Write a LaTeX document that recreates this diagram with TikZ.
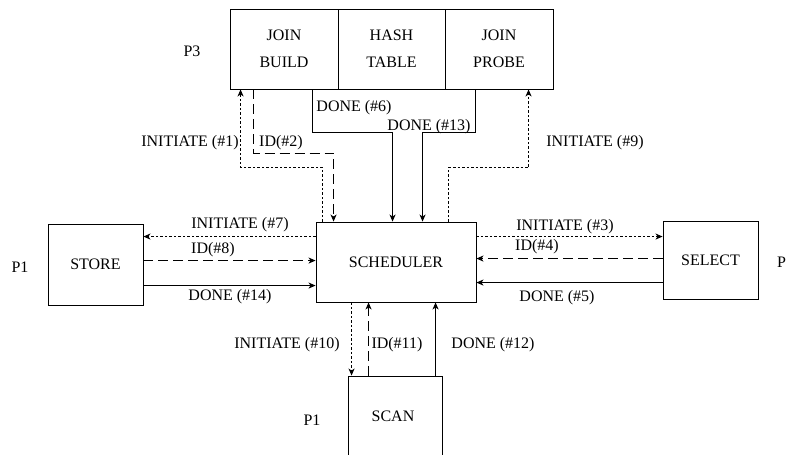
\documentclass[tikz,border=0pt]{standalone}
\usepackage{fontspec}
\setmainfont{Liberation Serif}
\usetikzlibrary{calc,arrows.meta}
\begin{document}
\begin{tikzpicture}[x=1pt,y=-1pt,
  every node/.style={font=\fontsize{16}{19}\selectfont},
  box/.style={draw,line width=0.9pt,inner sep=0pt,align=center},
  lbl/.style={inner sep=0pt},
  conn/.style={line width=0.9pt,-{Stealth[length=7pt,width=6pt,inset=2pt]}},
  dotline/.style={conn,dash pattern=on 2.5pt off 2pt},
  dashline/.style={conn,dash pattern=on 10pt off 5pt},
  solidline/.style={conn}]
\useasboundingbox (0,0) rectangle (790,455);
% boxes
\node[box,minimum width=108pt,minimum height=80pt] (jb) at (284,49) {JOIN\\[8pt]BUILD};
\node[box,minimum width=107pt,minimum height=80pt] (ht) at (391.5,49) {HASH\\[8pt]TABLE};
\node[box,minimum width=108pt,minimum height=80pt] (jp) at (499,49) {JOIN\\[8pt]PROBE};
\node[box,minimum width=160pt,minimum height=80pt] (sch) at (396,262) {SCHEDULER};
\node[box,minimum width=95pt,minimum height=81pt] (store) at (95.5,264.5) {STORE};
\node[box,minimum width=95pt,minimum height=78pt] (select) at (710.5,260) {SELECT};
\node[box,minimum width=94pt,minimum height=80pt,text depth=0pt] (scan) at (395,416) {};
\node[lbl] (scantext) at (393,416) {SCAN};
% processor labels
\node[lbl] (p3) at (192,51) {P3};
\node[lbl] (p1a) at (20,267) {P1};
\node[lbl,anchor=west] (p2) at (777,262) {P};
\node[lbl] (p1b) at (312,420) {P1};
% top connectors
\draw[dotline] ($(sch.north west)+(7,0)$) -- ++(0,-54) -| ($(jb.south west)+(11,0)$);
\draw[dashline] ($(jb.south west)+(24,0)$) -- ++(0,64) -| ($(sch.north west)+(18,0)$);
\draw[solidline] ($(jb.south east)+(-26,0)$) -- ++(0,43) -| ($(sch.north west)+(77,0)$);
\draw[solidline] ($(jp.south west)+(31,0)$) -- ++(0,43) -| ($(sch.north west)+(107,0)$);
\draw[dotline] ($(sch.north west)+(133,0)$) -- ++(0,-54) -| ($(jp.south west)+(84,0)$);
% left connectors
\coordinate (a7) at ($(sch.north west)+(0,15)$);
\coordinate (b8) at ($(store.north east)+(0,37)$);
\coordinate (c14) at ($(store.north east)+(0,62)$);
\draw[dotline] (a7) -- (a7 -| store.east);
\draw[dashline] (b8) -- (b8 -| sch.west);
\draw[solidline] (c14) -- (c14 -| sch.west);
% right connectors
\coordinate (a3) at ($(sch.north east)+(0,15)$);
\coordinate (b4) at ($(select.north west)+(0,38)$);
\coordinate (c5) at ($(select.north west)+(0,62)$);
\draw[dotline] (a3) -- (a3 -| select.west);
\draw[dashline] (b4) -- (b4 -| sch.east);
\draw[solidline] (c5) -- (c5 -| sch.east);
% bottom connectors
\coordinate (a10) at ($(sch.south west)+(36,0)$);
\coordinate (b11) at ($(scan.north west)+(21,0)$);
\coordinate (c12) at ($(scan.north west)+(88,0)$);
\draw[dotline] (a10) -- (a10 |- scan.north);
\draw[dashline] (b11) -- (b11 |- sch.south);
\draw[solidline] (c12) -- (c12 |- sch.south);
% connector labels
\node[lbl] (l1) at (190,143) {INITIATE (\#1)};
\node[lbl] (l2) at (281,143) {ID(\#2)};
\node[lbl] (l6) at (354,108) {DONE (\#6)};
\node[lbl] (l13) at (429,127) {DONE (\#13)};
\node[lbl] (l9) at (595,143) {INITIATE (\#9)};
\node[lbl] (l7) at (240,225) {INITIATE (\#7)};
\node[lbl] (l8) at (213,250) {ID(\#8)};
\node[lbl] (l14) at (230,297) {DONE (\#14)};
\node[lbl] (l3) at (565,227) {INITIATE (\#3)};
\node[lbl] (l4) at (537,247) {ID(\#4)};
\node[lbl] (l5) at (557,298) {DONE (\#5)};
\node[lbl] (l10) at (287,345) {INITIATE (\#10)};
\node[lbl] (l11) at (397,345) {ID(\#11)};
\node[lbl] (l12) at (493,345) {DONE (\#12)};
\end{tikzpicture}
\end{document}
